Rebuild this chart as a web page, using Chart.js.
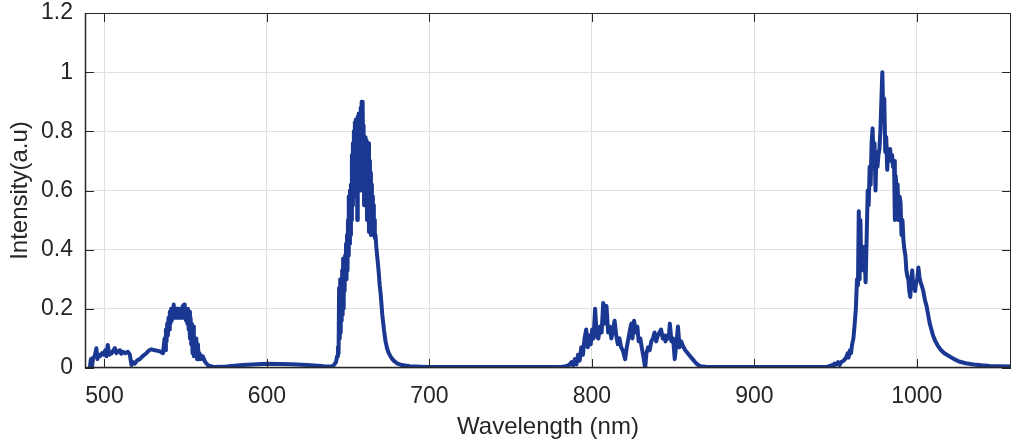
<!DOCTYPE html>
<html>
<head>
<meta charset="utf-8">
<script src="https://cdn.jsdelivr.net/npm/chart.js@4/dist/chart.umd.min.js"></script>
<style>
  html, body { margin: 0; padding: 0; background: #fff; }
  #wrap { width: 1012px; height: 444px; }
</style>
</head>
<body>
<div id="wrap"><canvas id="spectrum"></canvas></div>
<script>
// spectrum, [wavelength nm, intensity a.u.]
const bandGreen = [
  [491, 0.0], [491.6, 0.03], [492.2, 0.0], [493, 0.035], [494, 0.04], [495, 0.067], [495.6, 0.03],
  [496.5, 0.045], [497.2, 0.04], [498.5, 0.05], [499.5, 0.045], [500.5, 0.06], [501.2, 0.04], [502, 0.078],
  [503, 0.045], [504.4, 0.05], [505.5, 0.06], [506.4, 0.067], [507.3, 0.05], [508.2, 0.055],
  [509.5, 0.06], [510.3, 0.048], [511.3, 0.055], [512.8, 0.05], [514.4, 0.055], [515.6, 0.045], [516.6, 0.01],
  [517.5, 0.02], [518.7, 0.015], [520, 0.025], [521.7, 0.03], [523.5, 0.04], [525.8, 0.05],
  [527.5, 0.06], [528.9, 0.063], [531, 0.06], [532.9, 0.058], [534.5, 0.055], [536, 0.05],
  [537, 0.1], [537.4, 0.06], [537.8, 0.13], [538.2, 0.09], [538.6, 0.15], [539, 0.11],
  [539.4, 0.17], [539.8, 0.13], [540.2, 0.19], [540.6, 0.15], [541, 0.2], [541.4, 0.16],
  [541.8, 0.2], [542.2, 0.17], [542.6, 0.215], [543, 0.17], [543.4, 0.2], [543.8, 0.17],
  [544.2, 0.2], [544.6, 0.17], [545, 0.2], [545.4, 0.17], [545.8, 0.2], [546.2, 0.17],
  [546.6, 0.2], [547, 0.17], [547.4, 0.2], [547.8, 0.17], [548.2, 0.21], [548.6, 0.17],
  [549, 0.215], [549.4, 0.17], [549.8, 0.2], [550.2, 0.16], [550.6, 0.2], [551, 0.15],
  [551.4, 0.2], [551.8, 0.13], [552.2, 0.19], [552.6, 0.1], [553, 0.17], [553.4, 0.08],
  [553.8, 0.15], [554.2, 0.05], [554.6, 0.14], [555, 0.04], [555.5, 0.09], [556, 0.04],
  [556.5, 0.1], [557, 0.03], [557.5, 0.08], [558, 0.03], [558.5, 0.05], [559.4, 0.03],
  [560.4, 0.04], [562, 0.02], [563.5, 0.01], [565.5, 0.006], [567.8, 0.003]
];

const bandRed = [
  [575, 0.005], [585, 0.01], [600, 0.014], [615, 0.013], [625, 0.01], [635, 0.006], [640, 0.005],
  [641.5, 0.012], [642.5, 0.02], [643.2, 0.04], [643.7, 0.07], [644.1, 0.05], [644.4, 0.27],
  [644.8, 0.1], [645.1, 0.3], [645.4, 0.12], [645.7, 0.29],
  [646, 0.16], [646.3, 0.33], [646.6, 0.18], [646.9, 0.37], [647.2, 0.2], [647.5, 0.37],
  [647.8, 0.26], [648.1, 0.38], [648.4, 0.3], [648.7, 0.42], [649, 0.3], [649.3, 0.45],
  [649.6, 0.33], [649.9, 0.5], [650.2, 0.38], [650.5, 0.58], [650.8, 0.42], [651.1, 0.6],
  [651.4, 0.45], [651.7, 0.62], [652, 0.5], [652.3, 0.72], [652.6, 0.55], [652.9, 0.76],
  [653.2, 0.58], [653.5, 0.8], [653.8, 0.62], [654.1, 0.83], [654.4, 0.6], [654.7, 0.84],
  [655, 0.66], [655.3, 0.82], [655.6, 0.5], [655.9, 0.85], [656.2, 0.62], [656.5, 0.86],
  [656.8, 0.65], [657.1, 0.85], [657.4, 0.6], [657.7, 0.88], [658, 0.66], [658.3, 0.9],
  [658.6, 0.62], [658.9, 0.9], [659.2, 0.7], [659.5, 0.82], [659.8, 0.55], [660.1, 0.78],
  [660.4, 0.6], [660.7, 0.78], [661, 0.55], [661.3, 0.77], [661.6, 0.5], [661.9, 0.74],
  [662.2, 0.55], [662.5, 0.76], [662.8, 0.46], [663.1, 0.7], [663.4, 0.48], [663.7, 0.66],
  [664, 0.45], [664.3, 0.62], [664.6, 0.47], [664.9, 0.58], [665.2, 0.46], [665.5, 0.55],
  [665.8, 0.45], [666.1, 0.5], [666.4, 0.44], [666.8, 0.45], [667.3, 0.41], [668, 0.37],
  [668.7, 0.33], [669.4, 0.28], [670, 0.25], [671, 0.18], [672, 0.13], [673, 0.09],
  [674, 0.065], [675, 0.05], [676.5, 0.035], [678, 0.025], [680, 0.016], [683, 0.01],
  [688, 0.006], [695, 0.004], [700, 0.003], [740, 0.003], [780, 0.003]
];

const bandNIR1 = [
  [784, 0.006], [786, 0.01], [787.5, 0.02], [788.5, 0.008], [789.5, 0.03], [790.5, 0.012],
  [791.5, 0.045], [792.5, 0.025], [793.5, 0.07], [794.5, 0.045], [795.5, 0.1], [796.5, 0.13],
  [797.5, 0.07], [798.5, 0.11], [799.3, 0.08], [800.2, 0.13], [801, 0.1], [802, 0.2],
  [803, 0.11], [804, 0.1], [805, 0.14], [806, 0.12], [807, 0.22], [808, 0.15], [809, 0.21],
  [810, 0.12], [811, 0.14], [812, 0.1], [813, 0.13], [814, 0.16], [815, 0.11], [816, 0.08],
  [817, 0.1], [818, 0.07], [819, 0.06], [820.5, 0.03], [821.5, 0.07], [822.5, 0.1],
  [823.5, 0.13], [824.3, 0.15], [825, 0.1], [826, 0.16], [827, 0.12], [828, 0.14],
  [828.8, 0.09], [829.8, 0.1], [831, 0.06], [832, 0.03], [832.8, 0.0], [833.6, 0.05],
  [834.6, 0.07], [835.6, 0.06], [836.6, 0.09], [837.6, 0.1], [838.6, 0.12], [839.6, 0.09],
  [840.6, 0.11], [841.6, 0.12], [842.6, 0.13], [843.6, 0.1], [844.6, 0.11], [845.3, 0.09],
  [846.3, 0.11], [847.3, 0.1], [848, 0.15], [849, 0.09], [850, 0.1], [851, 0.03], [852, 0.08],
  [853, 0.14], [854, 0.07], [855, 0.09], [856, 0.075], [857.5, 0.06], [859, 0.05],
  [860.5, 0.04], [862, 0.03], [863.5, 0.02], [865, 0.012], [867, 0.006], [870, 0.004],
  [880, 0.003], [900, 0.003], [930, 0.003], [945, 0.004]
];

const bandNIR2 = [
  [946, 0.006], [948, 0.01], [948.7, 0.0], [949.3, 0.015], [950.5, 0.012], [951.5, 0.02],
  [952.5, 0.01], [953.5, 0.02], [955, 0.025], [956.5, 0.035], [957.5, 0.05], [958, 0.035],
  [958.8, 0.06], [959.5, 0.05], [960.2, 0.08], [961, 0.1], [961.8, 0.15], [962.5, 0.2],
  [963.2, 0.3], [963.8, 0.28], [964.3, 0.53], [964.8, 0.3], [965.3, 0.5], [965.8, 0.35],
  [966.5, 0.4], [967.2, 0.33], [967.8, 0.41], [968.5, 0.29], [969.2, 0.45], [969.8, 0.6],
  [970.4, 0.55], [971, 0.68], [971.6, 0.62], [972.2, 0.76], [972.8, 0.81], [973.4, 0.7],
  [974, 0.76], [974.6, 0.6], [975.2, 0.73], [975.8, 0.68], [976.4, 0.72], [977, 0.74],
  [977.6, 0.8], [978.2, 0.9], [978.8, 1.0], [979.4, 0.85], [980, 0.91], [980.6, 0.73],
  [981.2, 0.78], [981.8, 0.67], [982.4, 0.74], [983, 0.72], [983.6, 0.74], [984.2, 0.7],
  [984.8, 0.72], [985.4, 0.68], [986, 0.7], [986.5, 0.5], [987, 0.65], [987.6, 0.6],
  [988.2, 0.62], [988.8, 0.5], [989.4, 0.58], [990, 0.56], [990.6, 0.45], [991.2, 0.5],
  [991.8, 0.43], [992.4, 0.4], [993, 0.38], [993.6, 0.33], [994.2, 0.31], [994.8, 0.3],
  [995.4, 0.26], [996, 0.24], [996.6, 0.3], [997.2, 0.33], [997.8, 0.27], [998.4, 0.28],
  [999, 0.26], [999.6, 0.29], [1000.3, 0.3], [1001, 0.34], [1001.6, 0.31], [1002.3, 0.29],
  [1003, 0.28], [1004, 0.26], [1005, 0.23], [1006, 0.21], [1007, 0.18], [1008, 0.15],
  [1009, 0.13], [1010, 0.11], [1011.5, 0.09], [1013, 0.075], [1015, 0.06], [1017, 0.05],
  [1020, 0.04], [1023, 0.03], [1026, 0.022], [1030, 0.016], [1035, 0.012], [1040, 0.009],
  [1045, 0.007], [1050, 0.006], [1058, 0.005]
];

const xTicks = [500, 600, 700, 800, 900, 1000];
const yTicks = [0, 0.2, 0.4, 0.6, 0.8, 1, 1.2];
const xRange = [488, 1058];
const yRange = [0, 1.2];

const points = [...bandGreen, ...bandRed, ...bandNIR1, ...bandNIR2].map(p => ({ x: p[0], y: p[1] }));

const axisColor = "#262626";
const tickFont = { family: "'Liberation Sans', Arial, sans-serif", size: 23 };
const titleFont = { family: "'Liberation Sans', Arial, sans-serif", size: 24 };

// matlab style box with inward ticks on all four sides
const boxTicks = {
  id: "boxTicks",
  afterDraw(chart) {
    const { ctx, chartArea: a, scales } = chart;
    const len = 9;
    ctx.save();
    ctx.strokeStyle = axisColor;
    ctx.lineWidth = 1;
    ctx.strokeRect(a.left + 0.5, a.top + 0.5, a.right - a.left - 1, a.bottom - a.top - 1);
    ctx.beginPath();
    xTicks.forEach(v => {
      const px = Math.round(scales.x.getPixelForValue(v)) + 0.5;
      ctx.moveTo(px, a.bottom); ctx.lineTo(px, a.bottom - len);
      ctx.moveTo(px, a.top); ctx.lineTo(px, a.top + len);
    });
    yTicks.forEach(v => {
      const py = Math.round(scales.y.getPixelForValue(v)) + 0.5;
      ctx.moveTo(a.left, py); ctx.lineTo(a.left + len, py);
      ctx.moveTo(a.right, py); ctx.lineTo(a.right - len, py);
    });
    ctx.stroke();
    ctx.lineWidth = 1.5;
    ctx.beginPath();
    ctx.moveTo(a.left + 0.5, a.top); ctx.lineTo(a.left + 0.5, a.bottom);
    ctx.moveTo(a.left, a.bottom - 0.5); ctx.lineTo(a.right, a.bottom - 0.5);
    ctx.stroke();
    ctx.restore();
  }
};

new Chart(document.getElementById("spectrum"), {
  type: "line",
  data: {
    datasets: [{
      data: points,
      borderColor: "#1a3792",
      borderWidth: 4,
      borderJoinStyle: "round",
      pointRadius: 0,
      tension: 0
    }]
  },
  options: {
    responsive: true,
    maintainAspectRatio: false,
    animation: false,
    events: [],
    layout: { padding: { top: 13, right: 1, left: 0, bottom: 0 } },
    plugins: { legend: { display: false }, tooltip: { enabled: false } },
    scales: {
      x: {
        type: "linear",
        min: xRange[0],
        max: xRange[1],
        afterBuildTicks: s => { s.ticks = xTicks.map(v => ({ value: v })); },
        afterFit: s => { s.height = 76; s.paddingRight = 0; },
        grid: { color: "#e0e0e0", lineWidth: 1, drawTicks: false },
        border: { display: false },
        ticks: { color: axisColor, font: tickFont, padding: 15, maxRotation: 0, callback: v => String(v) },
        title: { display: true, text: "Wavelength (nm)", color: axisColor, font: titleFont, padding: { top: 0, bottom: 2 } }
      },
      y: {
        min: yRange[0],
        max: yRange[1],
        afterBuildTicks: s => { s.ticks = yTicks.map(v => ({ value: v })); },
        afterFit: s => { s.width = 85; s.paddingTop = 0; s.paddingBottom = 0; },
        grid: { color: "#e0e0e0", lineWidth: 1, drawTicks: false },
        border: { display: false },
        ticks: { color: axisColor, font: tickFont, padding: 12, callback: v => String(+v.toFixed(1)) },
        title: { display: true, text: "Intensity(a.u)", color: axisColor, font: titleFont, padding: { top: 6, bottom: 0 } }
      }
    }
  },
  plugins: [boxTicks]
});
</script>
</body>
</html>
